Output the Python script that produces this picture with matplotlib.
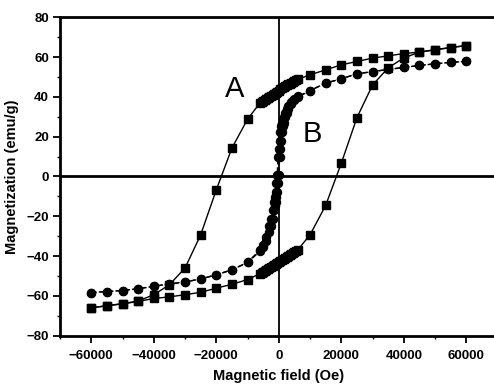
import numpy as np
import matplotlib
matplotlib.use('Agg')
import matplotlib.pyplot as plt
from matplotlib.ticker import MultipleLocator

# ---- sample A (squares), descending branch: +60000 -> -60000 Oe
field_A_down = [60000, 55000, 50000, 45000, 40000, 35000, 30000, 25000, 20000, 15000, 10000,
                6000, 5500, 5000, 4500, 4000, 3500, 3000, 2500, 2000, 1500, 1000, 500, 0,
                -500, -1000, -1500, -2000, -2500, -3000, -3500, -4000, -4500, -5000, -5500, -6000,
                -10000, -15000, -20000, -25000, -30000, -35000, -40000, -45000, -50000, -55000, -60000]
mag_A_down = [65.8, 64.8, 63.6, 62.5, 61.8, 60.6, 59.5, 57.8, 56.1, 53.6, 51.1,
              48.8, 48.4, 48.0, 47.6, 47.2, 46.7, 46.3, 45.8, 45.3, 44.8, 44.3, 43.8, 43.2,
              42.7, 42.2, 41.7, 41.2, 40.7, 40.1, 39.6, 39.1, 38.6, 38.0, 37.5, 37.0,
              28.8, 14.3, -6.7, -29.3, -46.0, -54.4, -59.4, -62.6, -63.9, -64.9, -66.0]

# ---- sample A, ascending branch: -60000 -> +60000 Oe
field_A_up = [-60000, -55000, -50000, -45000, -40000, -35000, -30000, -25000, -20000, -15000, -10000,
              -6000, -5500, -5000, -4500, -4000, -3500, -3000, -2500, -2000, -1500, -1000, -500, 0,
              500, 1000, 1500, 2000, 2500, 3000, 3500, 4000, 4500, 5000, 5500, 6000,
              10000, 15000, 20000, 25000, 30000, 35000, 40000, 45000, 50000, 55000, 60000]
mag_A_up = [-66.0, -65.0, -64.0, -62.8, -61.3, -60.5, -59.4, -58.2, -56.1, -54.2, -51.8,
            -48.8, -48.4, -48.0, -47.5, -47.1, -46.6, -46.2, -45.7, -45.2, -44.7, -44.2, -43.7, -43.1,
            -42.6, -42.1, -41.6, -41.1, -40.6, -40.0, -39.5, -39.0, -38.5, -38.0, -37.5, -37.0,
            -29.3, -14.5, 6.7, 29.6, 46.0, 54.6, 59.6, 62.5, 63.8, 64.8, 65.8]

# ---- sample B (circles), descending branch
field_B_down = [60000, 55000, 50000, 45000, 40000, 35000, 30000, 25000, 20000, 15000, 10000,
                6000, 5000, 4000, 3000, 2500, 2000, 1500, 1250, 1000, 750, 500, 250, 0,
                -250, -500, -750, -1000, -1250, -1500, -2000, -2500, -3000, -4000, -5000, -6000,
                -10000, -15000, -20000, -25000, -30000, -35000, -40000, -45000, -50000, -55000, -60000]
mag_B_down = [57.8, 57.4, 56.6, 55.8, 54.8, 53.8, 52.7, 51.6, 49.1, 46.9, 43.2,
              40.2, 39.1, 37.5, 35.2, 33.8, 32.0, 29.8, 28.5, 27.0, 25.5, 22.5, 18.0, 14.0,
              10.0, 1.0, -3.5, -7.8, -10.5, -12.8, -17.0, -21.2, -25.0, -30.3, -34.2, -36.8,
              -43.2, -46.9, -49.4, -51.5, -53.0, -54.0, -55.2, -56.4, -57.3, -57.8, -58.3]

# ---- sample B, ascending branch
field_B_up = [-60000, -55000, -50000, -45000, -40000, -35000, -30000, -25000, -20000, -15000, -10000,
              -6000, -5000, -4000, -3000, -2500, -2000, -1500, -1250, -1000, -750, -500, -250, 0,
              250, 500, 750, 1000, 1250, 1500, 2000, 2500, 3000, 4000, 5000, 6000,
              10000, 15000, 20000, 25000, 30000, 35000, 40000, 45000, 50000, 55000, 60000]
mag_B_up = [-58.3, -57.8, -57.3, -56.4, -55.2, -54.0, -53.0, -51.5, -49.4, -46.9, -43.2,
            -37.6, -35.6, -32.5, -27.8, -25.0, -21.2, -17.0, -15.0, -12.8, -10.5, -7.8, -3.5, 1.0,
            10.0, 14.0, 18.0, 22.5, 25.5, 27.0, 29.8, 32.0, 33.8, 36.4, 38.4, 39.7,
            43.2, 46.9, 49.1, 51.6, 52.7, 53.8, 54.8, 55.8, 56.6, 57.4, 57.8]

x_ticks = [-60000, -40000, -20000, 0, 20000, 40000, 60000]
y_ticks = [-80, -60, -40, -20, 0, 20, 40, 60, 80]

plt.rcParams['font.family'] = ['Liberation Sans', 'DejaVu Sans']
plt.rcParams['font.weight'] = 'bold'

fig = plt.figure(figsize=(4.94, 3.87), dpi=100)
ax = fig.add_axes([0.1215, 0.1326, 0.8858, 0.8227])

# cross lines through the origin
ax.axhline(0, color='black', lw=2.0, zorder=1)
ax.axvline(0, color='black', lw=1.3, zorder=1)

# sample A: squares, solid line
ax.plot(field_A_down, mag_A_down, 's-', color='black', ms=5.5, lw=1.0, zorder=3)
ax.plot(field_A_up, mag_A_up, 's-', color='black', ms=5.5, lw=1.0, zorder=3)
# sample B: circles, dashed line
ax.plot(field_B_down, mag_B_down, 'o', ls=(0, (4, 2)), color='black', ms=5.8, lw=1.0, zorder=3)
ax.plot(field_B_up, mag_B_up, 'o', ls=(0, (4, 2)), color='black', ms=5.8, lw=1.0, zorder=3)

ax.text(-14100, 44, 'A', fontsize=21, fontweight='normal', ha='center', va='center')
ax.text(10750, 21.4, 'B', fontsize=21, fontweight='normal', ha='center', va='center')

ax.set_xlim(-70000, 70000)
ax.set_ylim(-80, 80)
ax.set_xticks(x_ticks)
ax.set_yticks(y_ticks)
ax.xaxis.set_minor_locator(MultipleLocator(10000))
ax.yaxis.set_minor_locator(MultipleLocator(10))
ax.tick_params(which='major', direction='out', length=5, width=1.3, labelsize=9.5)
ax.tick_params(axis='x', which='major', pad=5)
ax.tick_params(axis='y', which='major', pad=3)
ax.tick_params(which='minor', direction='out', length=2.5, width=1.0)

for s in ['left', 'bottom', 'top']:
    ax.spines[s].set_linewidth(2.0)
ax.spines['right'].set_visible(False)

ax.set_xlabel('Magnetic field (Oe)', fontsize=10.5, fontweight='bold', labelpad=5)
ax.set_ylabel('Magnetization (emu/g)', fontsize=10.5, fontweight='bold', labelpad=5)

fig.savefig('out.png', dpi=100)
